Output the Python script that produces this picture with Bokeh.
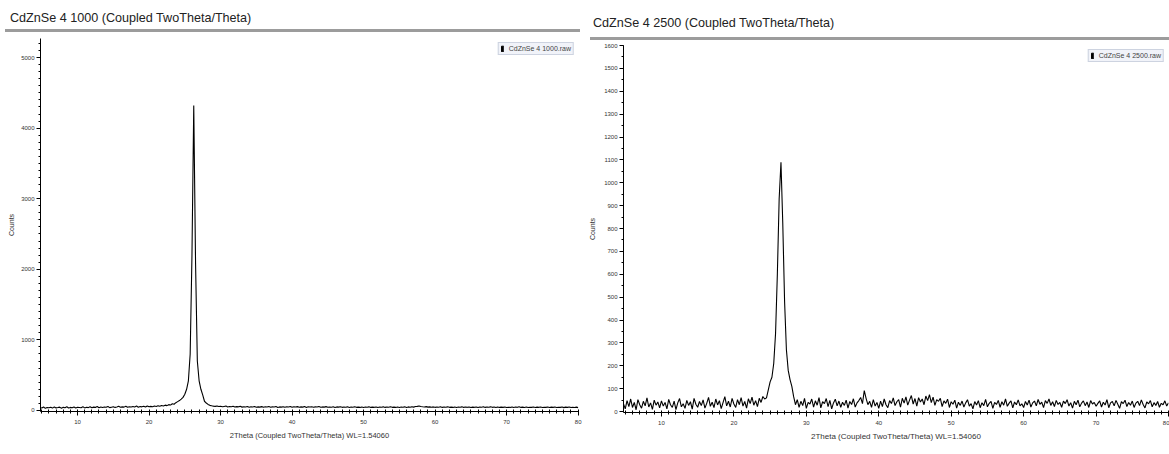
from bokeh.plotting import figure
from bokeh.models import (ColumnDataSource, FixedTicker, Range1d, Legend, LegendItem, Div)
from bokeh.layouts import row, column
from bokeh.embed import file_html
from bokeh.resources import INLINE

# ---------------- data ----------------
title_left = "CdZnSe 4 1000 (Coupled TwoTheta/Theta)"
title_right = "CdZnSe 4 2500 (Coupled TwoTheta/Theta)"
legend_left = "CdZnSe 4 1000.raw"
legend_right = "CdZnSe 4 2500.raw"
x_label = "2Theta (Coupled TwoTheta/Theta) WL=1.54060"
y_label = "Counts"

theta_start = 4.75
theta_step = 0.25

counts_1000 = [
    40, 35, 48, 30, 42, 38, 45, 33, 50, 36, 41, 47, 32, 44, 39, 52, 35, 43, 37, 49, 34, 46,
    42, 38, 51, 36, 45, 40, 53, 37, 47, 43, 55, 39, 48, 41, 50, 44, 57, 40, 46, 52,
    43, 49, 58, 45, 51, 47, 60, 44, 53, 48, 56, 50, 62, 46, 55, 51, 59, 48, 64, 52,
    58, 53, 62, 57, 66, 60, 70, 64, 75, 68, 82, 76, 95, 88, 110, 125,
    140, 160, 185, 230, 300, 420, 800, 2200, 4320, 2100, 700, 420, 300, 220, 130, 105, 85, 72,
    66, 61, 58, 63, 55, 60, 52, 57, 62, 50, 56, 53, 59, 48, 54, 51, 58, 47, 53, 49, 56, 46, 52, 48, 55, 45,
    50, 47, 54, 44, 52, 49, 57, 46, 51, 48, 55, 43, 50, 47, 53, 45, 52, 49, 56, 44,
    51, 48, 54, 46, 50, 47, 55, 43, 52, 49, 53, 45, 51, 48, 56, 44, 50, 47, 54, 46,
    49, 45, 52, 43, 50, 47, 53, 44, 48, 46, 51, 42, 49, 45, 52, 44, 47, 43, 50, 41,
    48, 45, 51, 43, 47, 44, 50, 42, 48, 46, 51, 43, 49, 45, 52, 44, 47, 43, 50, 42,
    48, 45, 51, 43, 50, 46, 53, 47, 55, 58, 62, 56, 52, 49, 54, 47, 51, 45, 50, 44,
    48, 46, 52, 43, 49, 45, 51, 44, 47, 43, 50, 42, 48, 45, 51, 43, 49, 44, 50, 42,
    47, 44, 50, 42, 48, 45, 52, 43, 49, 46, 51, 44, 48, 42, 50, 43, 47, 44, 49, 41,
    46, 43, 50, 42, 48, 44, 51, 43, 47, 42, 49, 41, 46, 43, 48, 42, 47, 44, 50, 41,
    46, 43, 49, 41, 47, 44, 48, 42, 46, 43, 49, 40, 47, 44, 48, 41, 45, 42, 47, 40,
]

counts_2500 = [
    35, 12, 48, 22, 55, 18, 40, 8, 52, 30, 15, 45, 25, 60, 20, 38, 10, 50, 28, 42, 16, 47,
    24, 40, 12, 53, 30, 18, 46, 9, 38, 57, 21, 34, 14, 49, 27, 43, 11, 58, 32, 19,
    44, 26, 51, 15, 36, 62, 23, 41, 17, 55, 29, 48, 13, 39, 65, 25, 45, 20, 58, 33,
    18, 52, 30, 61, 24, 44, 15, 56, 35, 63, 28, 48, 22, 58, 40, 66, 55,
    60, 95, 130, 150, 210, 340, 600, 930, 1090, 820, 480, 270, 180, 140, 110, 65,
    30, 52, 18, 45, 26, 58, 14, 40, 33, 55, 20, 47, 28, 61, 16, 43, 35, 57, 22, 49, 12, 38, 54, 25, 46, 19, 41,
    27, 50, 15, 44, 31, 56, 20, 38, 48, 62, 35, 92, 58, 30, 45, 18, 52, 24, 40, 14,
    46, 22, 55, 30, 17, 48, 35, 60, 26, 43, 52, 19, 58, 37, 64, 28, 50, 70, 33, 57,
    24, 61, 42, 55, 30, 68, 48, 74, 39, 63, 27, 52, 45, 58, 22, 47, 36, 54, 18, 43,
    32, 50, 15, 41, 27, 46, 20, 38, 52, 24, 35, 12, 44, 29, 48, 17, 39, 26, 53, 21,
    36, 45, 14, 40, 31, 49, 19, 43, 28, 55, 23, 37, 47, 16, 42, 30, 51, 25, 34, 18,
    44, 29, 50, 20, 38, 46, 25, 53, 32, 41, 17, 48, 36, 55, 27, 43, 22, 49, 31, 40,
    19, 46, 35, 52, 24, 39, 15, 45, 30, 50, 21, 37, 47, 26, 42, 18, 48, 33, 40, 23,
    36, 47, 20, 41, 29, 52, 17, 38, 44, 25, 49, 32, 14, 43, 35, 50, 22, 40, 28, 46,
    18, 37, 45, 26, 51, 31, 16, 42, 34, 48, 21, 39, 27, 44, 19, 36, 30, 47, 24, 38,
]

x_ticks = [10, 20, 30, 40, 50, 60, 70, 80]
x_minor = list(range(5, 81))
y_ticks_left = [0, 1000, 2000, 3000, 4000, 5000]
y_minor_left = list(range(0, 5300, 100))
y_ticks_right = list(range(0, 1700, 100))
y_minor_right = list(range(0, 1650, 50))

FONT = "Liberation Sans"


def grid(n):
    return [round(theta_start + theta_step * i, 2) for i in range(n)]


def make_panel(counts, legend_text, width, height, x_rng, y_rng, borders,
               yticks, yminor, ylabel_standoff, xlabel_size):
    left, right, top, bottom = borders
    p = figure(width=width, height=height, output_backend="svg", toolbar_location=None,
               x_range=Range1d(*x_rng), y_range=Range1d(*y_rng),
               min_border_left=left, min_border_right=right,
               min_border_top=top, min_border_bottom=bottom)
    p.margin = (0, 0, 0, 0)
    p.outline_line_color = None
    p.xgrid.visible = False
    p.ygrid.visible = False
    p.background_fill_color = "white"

    src = ColumnDataSource(dict(x=grid(len(counts)), y=counts))
    p.line("x", "y", source=src, line_color="black", line_width=1.1)

    mark = p.vbar(x=[float("nan")], top=[float("nan")], width=0.5,
                  fill_color="black", line_color="black")
    legend = Legend(items=[LegendItem(label=legend_text, renderers=[mark])],
                    location="top_right", margin=4, padding=2, spacing=0,
                    glyph_width=3, glyph_height=7, label_height=7,
                    label_standoff=5, label_text_font=FONT,
                    label_text_font_size="7px", label_text_color="#444444",
                    border_line_color="#aab4c8", border_line_width=1,
                    background_fill_color="#f1f3f9", background_fill_alpha=1.0)
    p.add_layout(legend)

    xa = p.xaxis[0]
    xa.ticker = FixedTicker(ticks=x_ticks, minor_ticks=x_minor)
    xa.axis_label = x_label
    xa.axis_label_text_font = FONT
    xa.axis_label_text_font_size = xlabel_size
    xa.axis_label_text_font_style = "normal"
    xa.axis_label_text_color = "#333333"
    xa.axis_label_standoff = 4
    xa.major_label_text_font = FONT
    xa.major_label_text_font_size = "6px"
    xa.major_label_text_color = "#333333"
    xa.major_label_standoff = 4
    xa.major_tick_in = 0
    xa.major_tick_out = 4
    xa.minor_tick_in = 2
    xa.minor_tick_out = 2
    xa.axis_line_color = "black"
    xa.major_tick_line_color = "black"
    xa.minor_tick_line_color = "black"

    ya = p.yaxis[0]
    ya.ticker = FixedTicker(ticks=yticks, minor_ticks=yminor)
    ya.axis_label = y_label
    ya.axis_label_text_font = FONT
    ya.axis_label_text_font_size = "7px"
    ya.axis_label_text_font_style = "normal"
    ya.axis_label_text_color = "#333333"
    ya.axis_label_standoff = ylabel_standoff
    ya.major_label_text_font = FONT
    ya.major_label_text_font_size = "6px"
    ya.major_label_text_color = "#333333"
    ya.major_label_standoff = 2
    ya.major_tick_in = 0
    ya.major_tick_out = 4
    ya.minor_tick_in = 0
    ya.minor_tick_out = 2
    ya.axis_line_color = "black"
    ya.major_tick_line_color = "black"
    ya.minor_tick_line_color = "black"
    return p


def title_div(text, width, height, pad_top, pad_left, rule_left, rule_width, text_h):
    html = (
        f'<div style="display:block;box-sizing:content-box;'
        f'font-family:\'{FONT}\',Arial,sans-serif;font-size:12.6px;color:#222;'
        f'width:{rule_width - pad_left}px;height:{text_h}px;line-height:20px;'
        f'padding-top:{pad_top}px;padding-left:{pad_left}px;margin:0 0 0 {rule_left}px;'
        f'border-bottom:3px solid #9c9c9c;white-space:nowrap;">{text}</div>'
    )
    return Div(text=html, width=width, height=height, margin=(0, 0, 0, 0))


p_left = make_panel(counts_1000, legend_left, 585, 419, (4.82, 80.05), (-15, 5270),
                    (40, 7, 3, 43), y_ticks_left, y_minor_left, 3, "7.5px")
p_right = make_panel(counts_2500, legend_right, 584, 413, (4.76, 80.0), (-4, 1600),
                     (38, 1, 4, 42), y_ticks_right, y_minor_right, 5, "8px")

d_left = title_div(title_left, 585, 35, 8, 5, 5, 575, 21)
d_right = title_div(title_right, 584, 41, 13, 3, 5, 579, 24)

col_left = column(d_left, p_left, spacing=0, margin=(0, 0, 0, 0))
col_right = column(d_right, p_right, spacing=0, margin=(0, 0, 0, 0))
layout = row(col_left, col_right, spacing=0, margin=(0, 0, 0, 0))

open("out.html", "w").write(file_html(layout, INLINE))
